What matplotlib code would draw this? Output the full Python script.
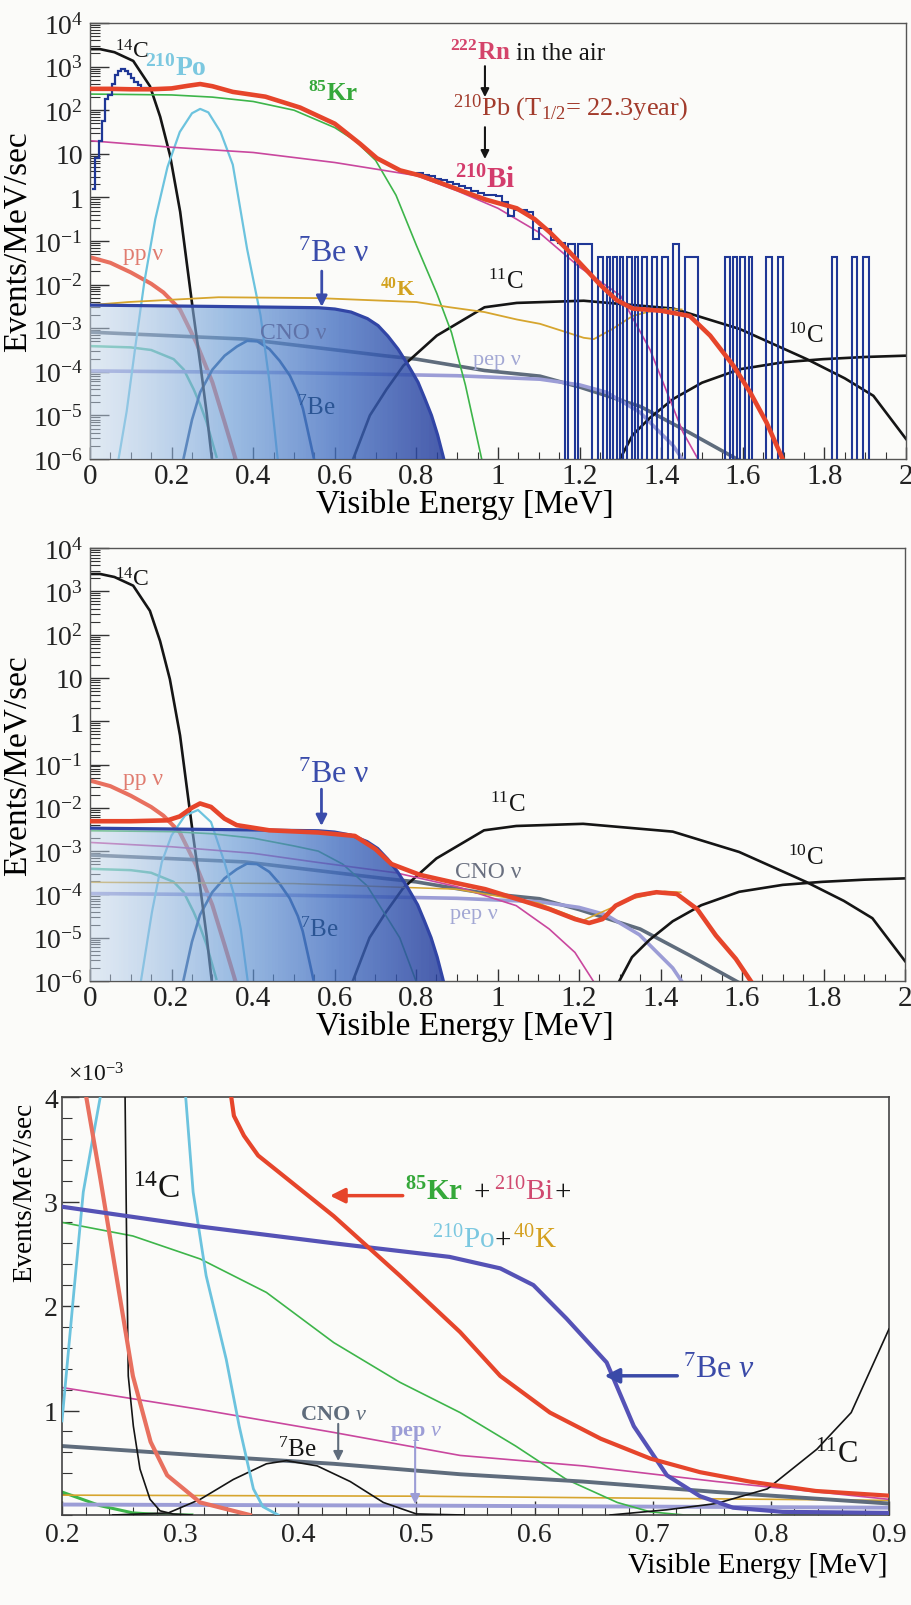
import numpy as np
import matplotlib
matplotlib.use("Agg")
import matplotlib.pyplot as plt
from matplotlib.colors import LinearSegmentedColormap
from matplotlib.patches import Polygon
from matplotlib.ticker import MultipleLocator, FuncFormatter, LogLocator, NullFormatter

plt.rcParams['font.family'] = ['Liberation Serif', 'DejaVu Serif']
plt.rcParams['mathtext.fontset'] = 'custom'
plt.rcParams['mathtext.rm'] = 'Liberation Serif'
plt.rcParams['mathtext.it'] = 'Liberation Serif:italic'
plt.rcParams['mathtext.bf'] = 'Liberation Serif:bold'

# ---------------- log panels: energy [MeV], log10(events/MeV/sec) ----------------
c14_e = [0, 0.025, 0.06, 0.106, 0.147, 0.172, 0.196, 0.221, 0.237, 0.253, 0.27, 0.286, 0.30]
c14_log = [3.40, 3.40, 3.33, 3.13, 2.55, 1.85, 0.97, -0.33, -1.49, -2.64, -3.8, -4.95, -6.1]

pp_e = [0, 0.05, 0.1, 0.15, 0.18, 0.22, 0.26, 0.30, 0.33, 0.36]
pp_log = [-1.37, -1.5, -1.72, -1.98, -2.18, -2.56, -3.32, -4.24, -5.16, -6.1]

po_e = [0.07, 0.09, 0.11, 0.133, 0.16, 0.19, 0.22, 0.25, 0.27, 0.29, 0.32, 0.35, 0.385, 0.418, 0.44, 0.46]
po_log = [-6.0, -4.9, -3.5, -1.95, -0.5, 0.7, 1.5, 1.93, 2.03, 1.95, 1.5, 0.75, -1.18, -2.71, -4.24, -6.0]

kr_e = [0, 0.1, 0.2, 0.3, 0.4, 0.5, 0.6, 0.65, 0.7, 0.75, 0.8, 0.85, 0.886, 0.92, 0.96]
kr_log = [2.37, 2.36, 2.35, 2.3, 2.2, 2.0, 1.6, 1.3, 0.85, 0.05, -1.1, -2.2, -3.1, -4.3, -6.0]

bi_e = [0, 0.2, 0.4, 0.6, 0.8, 0.9, 1.0, 1.1, 1.2, 1.3, 1.373, 1.453, 1.49]
bi_log = [1.30, 1.15, 1.03, 0.80, 0.50, 0.15, -0.25, -0.8, -1.6, -2.25, -3.5, -5.38, -6.0]

k40_e = [0, 0.094, 0.315, 0.56, 0.80, 0.882, 0.967, 1.046, 1.103, 1.21, 1.235, 1.28, 1.33, 1.37, 1.41, 1.45]
k40_log = [-2.47, -2.40, -2.29, -2.31, -2.40, -2.52, -2.63, -2.8, -2.9, -3.22, -3.25, -3.02, -2.72, -2.62, -2.56, -2.57]

teal_e = [0, 0.1, 0.15, 0.205, 0.23, 0.254, 0.27, 0.286, 0.31]
teal_log = [-3.41, -3.44, -3.5, -3.71, -3.95, -4.4, -4.75, -5.16, -5.95]

be7nu_e = [0, 0.3, 0.56, 0.6, 0.64, 0.68, 0.706, 0.73, 0.755, 0.78, 0.804, 0.82, 0.837, 0.852, 0.865, 0.875]
be7nu_log = [-2.47, -2.5, -2.53, -2.56, -2.63, -2.78, -2.94, -3.18, -3.48, -3.85, -4.24, -4.6, -5.0, -5.45, -5.92, -6.3]

cno_e = [0, 0.38, 0.72, 0.80, 0.967, 1.103, 1.2, 1.35, 1.47, 1.595]
cno_log = [-3.09, -3.25, -3.63, -3.71, -3.97, -4.1, -4.35, -4.8, -5.4, -6.05]

pep_e = [0, 0.5, 0.9, 1.103, 1.2, 1.266, 1.348, 1.43, 1.455]
pep_log = [-3.98, -4.02, -4.09, -4.17, -4.3, -4.47, -4.93, -5.7, -6.05]

be7_e = [0.229, 0.25, 0.27, 0.30, 0.33, 0.36, 0.385, 0.41, 0.44, 0.465, 0.49, 0.51, 0.522, 0.535, 0.549]
be7_log = [-6.0, -5.1, -4.47, -3.95, -3.63, -3.42, -3.29, -3.3, -3.48, -3.75, -4.09, -4.5, -4.85, -5.4, -6.0]

c11_e = [0.645, 0.686, 0.727, 0.768, 0.85, 0.967, 1.046, 1.21, 1.43, 1.593, 1.757, 1.85, 1.92, 2.0]
c11_log = [-6.0, -5.0, -4.4, -3.86, -3.17, -2.52, -2.42, -2.37, -2.55, -3.02, -3.71, -4.15, -4.55, -5.54]

c10_e = [1.299, 1.33, 1.373, 1.43, 1.5, 1.593, 1.70, 1.797, 1.9, 2.0]
c10_log = [-6.0, -5.45, -5.05, -4.62, -4.25, -3.94, -3.78, -3.71, -3.66, -3.63]

# total (panel 1, before purification)
red1_e = [0, 0.05, 0.1, 0.15, 0.2, 0.24, 0.27, 0.30, 0.35, 0.43, 0.515, 0.6, 0.662, 0.703, 0.76, 0.81,
          0.86, 0.92, 0.97, 1.046, 1.09, 1.127, 1.17, 1.21, 1.25, 1.29, 1.33, 1.40, 1.47, 1.52, 1.577,
          1.618, 1.658, 1.70]
red1_log = [2.49, 2.49, 2.48, 2.48, 2.5, 2.56, 2.6, 2.55, 2.42, 2.31, 2.06, 1.69, 1.23, 0.9, 0.62, 0.5,
            0.33, 0.12, -0.05, -0.25, -0.5, -0.8, -1.2, -1.6, -2.0, -2.35, -2.55, -2.6, -2.72, -3.17, -3.86,
            -4.47, -5.16, -6.05]

# measured spectrum histogram (panel 1)
histlo_edges = [0.005, 0.013, 0.021, 0.029, 0.037, 0.045, 0.053, 0.061, 0.069, 0.077, 0.085, 0.093,
                0.101, 0.109, 0.117, 0.125, 0.133, 0.141]
histlo_log = [0.2, 0.9, 1.3, 1.75, 2.25, 2.35, 2.6, 2.8, 2.9, 2.94, 2.9, 2.83, 2.75, 2.65, 2.58, 2.52, 2.5]
histhi_edges = [0.80, 0.815, 0.83, 0.845, 0.86, 0.875, 0.89, 0.905, 0.92, 0.935, 0.95, 0.965, 0.98,
                0.995, 1.01, 1.025, 1.04, 1.055, 1.07, 1.085, 1.10, 1.115, 1.13, 1.148]
histhi_log = [0.55, 0.52, 0.5, 0.42, 0.4, 0.35, 0.3, 0.27, 0.22, 0.15, 0.1, 0.05, 0.06, 0.04, -0.1,
              -0.42, -0.3, -0.3, -0.34, -0.95, -0.7, -0.72, -0.98]
bar_lo = [1.148, 1.172, 1.197, 1.246, 1.266, 1.283, 1.299, 1.315, 1.336, 1.352, 1.377, 1.401, 1.428,
          1.458, 1.556, 1.577, 1.593, 1.614, 1.658, 1.687, 1.818, 1.867, 1.895]
bar_hi = [1.164, 1.189, 1.230, 1.258, 1.275, 1.291, 1.307, 1.328, 1.344, 1.364, 1.389, 1.417, 1.444,
          1.491, 1.569, 1.585, 1.605, 1.622, 1.671, 1.699, 1.830, 1.879, 1.910]
bar_log = [-1.05, -1.07, -1.07, -1.37, -1.37, -1.37, -1.37, -1.37, -1.37, -1.37, -1.37, -1.37, -1.07,
           -1.37, -1.37, -1.37, -1.37, -1.37, -1.37, -1.37, -1.37, -1.37, -1.37]

# panel 2 (after purification)
red2_e = [0, 0.1, 0.19, 0.22, 0.25, 0.27, 0.297, 0.33, 0.36, 0.44, 0.56, 0.65, 0.70, 0.74, 0.81, 0.89,
          0.97, 1.046, 1.127, 1.19, 1.225, 1.258, 1.29, 1.34, 1.39, 1.44, 1.49, 1.536, 1.585, 1.625]
red2_log = [-2.31, -2.31, -2.29, -2.2, -2.0, -1.9, -1.98, -2.25, -2.4, -2.52, -2.57, -2.65, -2.95, -3.3,
            -3.55, -3.72, -3.88, -4.1, -4.34, -4.57, -4.66, -4.57, -4.26, -4.03, -3.95, -3.99, -4.34,
            -4.95, -5.49, -6.05]
po2_e = [0.125, 0.152, 0.176, 0.2, 0.233, 0.265, 0.297, 0.33, 0.354, 0.37, 0.387]
po2_log = [-6.0, -4.41, -3.26, -2.64, -2.18, -2.05, -2.33, -3.26, -4.03, -4.8, -6.0]
kr2_e = [0, 0.2, 0.3, 0.4, 0.5, 0.56, 0.62, 0.68, 0.72, 0.76, 0.80]
kr2_log = [-2.53, -2.55, -2.6, -2.7, -2.88, -3.0, -3.3, -3.8, -4.4, -5.0, -6.0]
bi2_e = [0, 0.2, 0.4, 0.55, 0.75, 0.9, 1.046, 1.127, 1.19, 1.235]
bi2_log = [-2.8, -2.9, -3.05, -3.25, -3.5, -3.82, -4.26, -4.8, -5.34, -6.0]
k2_e = [0, 0.5, 0.9, 1.1, 1.21, 1.33, 1.41, 1.45]
k2_log = [-3.72, -3.75, -3.88, -4.2, -4.6, -4.1, -3.93, -3.95]

# ---------------- panel 3: linear, values in 1e-3 events/MeV/sec ----------------
be7nu3_e = [0.2, 0.317, 0.43, 0.528, 0.571, 0.599, 0.627, 0.661, 0.684, 0.712, 0.74, 0.768, 0.81, 0.9]
be7nu3_v = [2.95, 2.76, 2.6, 2.47, 2.36, 2.2, 1.88, 1.46, 0.85, 0.38, 0.18, 0.07, 0.03, 0.02]
red3_e = [0.342, 0.3455, 0.354, 0.366, 0.387, 0.43, 0.486, 0.537, 0.571, 0.613, 0.656, 0.698, 0.74,
          0.782, 0.838, 0.9]
red3_v = [4.1, 3.82, 3.63, 3.44, 3.25, 2.86, 2.29, 1.75, 1.33, 0.98, 0.73, 0.54, 0.41, 0.32, 0.23, 0.185]
kr3_e = [0.2, 0.26, 0.317, 0.373, 0.43, 0.486, 0.537, 0.584, 0.627, 0.67, 0.698, 0.727, 0.9]
kr3_v = [2.8, 2.67, 2.45, 2.13, 1.65, 1.27, 0.98, 0.66, 0.34, 0.12, 0.03, 0.0, 0.0]
bi3_e = [0.2, 0.317, 0.43, 0.537, 0.641, 0.754, 0.9]
bi3_v = [1.22, 1.01, 0.79, 0.57, 0.47, 0.32, 0.15]
cno3_e = [0.2, 0.317, 0.43, 0.537, 0.641, 0.754, 0.9]
cno3_v = [0.66, 0.57, 0.49, 0.39, 0.32, 0.22, 0.11]
k3_e = [0.2, 0.5, 0.9]
k3_v = [0.19, 0.18, 0.14]
pep3_e = [0.2, 0.5, 0.9]
pep3_v = [0.1, 0.09, 0.07]
c143_e = [0.2533, 0.2548, 0.2561, 0.2604, 0.266, 0.2745, 0.283, 0.294, 0.31]
c143_v = [4.1, 2.5, 1.33, 0.85, 0.44, 0.15, 0.04, 0.01, 0.0]
be73_e = [0.243, 0.29, 0.317, 0.345, 0.373, 0.39, 0.416, 0.444, 0.472, 0.5, 0.54]
be73_v = [0.0, 0.02, 0.15, 0.34, 0.49, 0.52, 0.47, 0.32, 0.12, 0.01, 0.0]
c113_e = [0.664, 0.712, 0.754, 0.797, 0.839, 0.868, 0.9]
c113_v = [0.0, 0.05, 0.11, 0.25, 0.63, 0.98, 1.78]
pp3_e = [0.2, 0.219, 0.232, 0.246, 0.26, 0.275, 0.289, 0.317, 0.359]
pp3_v = [5.6, 4.1, 3.25, 2.29, 1.33, 0.70, 0.38, 0.12, 0.0]
po3_e = [0.2, 0.21, 0.218, 0.226, 0.234, 0.27, 0.304, 0.311, 0.322, 0.339, 0.35, 0.362, 0.37, 0.383]
po3_v = [0.9, 2.13, 3.09, 3.6, 4.1, 10.5, 4.1, 3.09, 2.29, 1.49, 0.85, 0.25, 0.08, 0.0]
teal3_e = [0.2, 0.232, 0.26, 0.289, 0.31]
teal3_v = [0.22, 0.09, 0.02, 0.0, 0.0]

# colours
RED = '#e6452b'
BLACK = '#151515'
CYAN = '#6cc3de'
GREEN = '#3db54a'
MAGENTA = '#c9479e'
GOLD = '#d6a52e'
SALMON = '#e8705f'
TEAL = '#5bc4a0'
BEBLUE = '#3145a5'
CNOGRAY = '#5f6c7c'
PEP = '#9c9dd6'
BE7 = '#1f4f8f'
HIST = '#1f3796'
BG = '#fbfbf9'

be_cmap = LinearSegmentedColormap.from_list('be', [
    (0.0, (0.78, 0.85, 0.93, 0.5)),
    (0.4, (0.40, 0.60, 0.84, 0.65)),
    (0.7, (0.25, 0.42, 0.75, 0.78)),
    (1.0, (0.15, 0.24, 0.61, 0.85))])


def lg(v):
    return 10.0 ** np.asarray(v)


def text(ax, x, y, s, color, size, weight='normal', ha='left', va='center'):
    return ax.text(x, y, s, transform=ax.transAxes, color=color, fontsize=size,
                   fontweight=weight, ha=ha, va=va, zorder=20)


def chain(ax, x, y, parts, size):
    # pieces of one label in different colours, set one after another on a baseline
    s, c, w, _ = parts[0]
    t = text(ax, x, y, s, c, size, w, va='baseline')
    for s, c, w, gap in parts[1:]:
        t = ax.annotate(s, xy=(1, 0), xycoords=t, xytext=(gap, 0), textcoords='offset points',
                        color=c, fontsize=size, fontweight=w, va='bottom', ha='left', zorder=20)


def arrow(ax, x0, y0, x1, y1, color, lw=1.5, ms=14):
    ax.annotate('', xy=(x1, y1), xytext=(x0, y0), xycoords='axes fraction',
                textcoords='axes fraction', zorder=20,
                arrowprops=dict(arrowstyle='-|>', color=color, lw=lw,
                                mutation_scale=ms, shrinkA=0, shrinkB=0))


def shade(ax):
    verts = list(zip(be7nu_e, lg(be7nu_log))) + [(be7nu_e[-1], 1e-8), (0, 1e-8)]
    patch = Polygon(verts, closed=True, transform=ax.transData,
                    facecolor='none', edgecolor='none')
    ax.add_patch(patch)
    gx = np.linspace(0, 0.88, 220)
    gc = np.linspace(0, 1, 219).reshape(1, -1)
    mesh = ax.pcolormesh(gx, [1e-8, 1e-2], gc, cmap=be_cmap, shading='flat',
                         edgecolors='none', antialiased=False, zorder=3)
    mesh.set_clip_path(patch)
    ax.plot(be7nu_e, lg(be7nu_log), color=BEBLUE, lw=2.3, zorder=4)


def log_axes(ax):
    ax.set_yscale('log')
    ax.set_xlim(0, 2)
    ax.set_ylim(1e-6, 1e4)
    ax.set_facecolor('none')
    yt = [10.0 ** k for k in range(-6, 5)]
    ylab = [r'$10^{-6}$', r'$10^{-5}$', r'$10^{-4}$', r'$10^{-3}$', r'$10^{-2}$',
            r'$10^{-1}$', '1', '10', r'$10^{2}$', r'$10^{3}$', r'$10^{4}$']
    ax.set_yticks(yt)
    ax.set_yticklabels(ylab)
    ax.yaxis.set_minor_locator(LogLocator(base=10, subs=np.arange(2, 10), numticks=30))
    ax.yaxis.set_minor_formatter(NullFormatter())
    ax.xaxis.set_major_locator(MultipleLocator(0.2))
    ax.xaxis.set_minor_locator(MultipleLocator(0.05))
    ax.xaxis.set_major_formatter(FuncFormatter(lambda v, p: f'{v:g}'))
    ax.tick_params(which='both', direction='in', top=False, right=False,
                   colors='#333333', labelcolor='#222222')
    ax.yaxis.set_tick_params(which='major', length=14, width=1.0, pad=5, labelsize=20)
    ax.yaxis.set_tick_params(which='minor', length=7, width=0.8)
    ax.xaxis.set_tick_params(which='major', length=9, width=1.0, pad=3, labelsize=21)
    ax.xaxis.set_tick_params(which='minor', length=5, width=0.8)
    for s in ax.spines.values():
        s.set_color('#555555')
        s.set_linewidth(1.0)
    ax.set_ylabel('Events/MeV/sec', fontsize=24)
    ax.yaxis.set_label_coords(-0.071, 0.5)
    ax.set_xlabel('Visible Energy [MeV]', fontsize=24)
    ax.xaxis.set_label_coords(0.46, -0.066)


def common_lines(ax):
    ax.plot(pp_e, lg(pp_log), color=SALMON, lw=2.9, zorder=2)
    ax.plot(teal_e, lg(teal_log), color=TEAL, lw=1.8, zorder=2)
    ax.plot(cno_e, lg(cno_log), color=CNOGRAY, lw=2.6, zorder=2)
    ax.plot(pep_e, lg(pep_log), color=PEP, lw=2.6, zorder=2)
    ax.plot(be7_e, lg(be7_log), color=BE7, lw=1.9, zorder=2)
    ax.plot(c14_e, lg(c14_log), color=BLACK, lw=1.9, zorder=2)
    ax.plot(c11_e, lg(c11_log), color=BLACK, lw=1.9, zorder=2)
    ax.plot(c10_e, lg(c10_log), color=BLACK, lw=1.9, zorder=2)


fig = plt.figure(figsize=(9.11, 16.06), dpi=100, facecolor=BG)

# ---------------- panel 1 ----------------
ax1 = fig.add_axes([90 / 911, 1 - 460 / 1606, 816 / 911, 436 / 1606])
common_lines(ax1)
ax1.plot(po_e, lg(po_log), color=CYAN, lw=1.6, zorder=2)
ax1.plot(kr_e, lg(kr_log), color=GREEN, lw=1.2, zorder=2)
ax1.plot(bi_e, lg(bi_log), color=MAGENTA, lw=1.2, zorder=2)
ax1.plot(k40_e, lg(k40_log), color=GOLD, lw=1.3, zorder=2)
shade(ax1)

# histogram of data
ax1.stairs(lg(histlo_log), histlo_edges, baseline=None, color=HIST, lw=1.6, zorder=5)
edges = list(histhi_edges)
vals = list(histhi_log)
for lo, hi, h in zip(bar_lo, bar_hi, bar_log):
    if lo > edges[-1] + 1e-9:
        vals.append(-9)
        edges.append(lo)
    vals.append(h)
    edges.append(hi)
vals.append(-9)
edges.append(2.0)
ax1.stairs(lg(vals), edges, baseline=None, color=HIST, lw=1.5, zorder=5)
ax1.plot(red1_e, lg(red1_log), color=RED, lw=3.3, zorder=6, solid_capstyle='round')
log_axes(ax1)

text(ax1, 0.031, 0.936, r'$^{14}$C', BLACK, 17)
text(ax1, 0.067, 0.899, r'$^{\mathbf{210}}$Po', '#7cc8e0', 20, 'bold')
text(ax1, 0.267, 0.839, r'$^{\mathbf{85}}$Kr', '#35a83a', 18, 'bold')
chain(ax1, 0.441, 0.917, [(r'$^{\mathbf{222}}$Rn', '#d4436a', 'bold', 0),
                          ('in the air', BLACK, 'normal', 4)], 18)
arrow(ax1, 0.484, 0.901, 0.484, 0.830, BLACK, 1.5, 12)
text(ax1, 0.445, 0.791, r'$^{210}$Pb (T$_{1/2}$= 22.3year)', '#a23b2c', 19, va='baseline')
arrow(ax1, 0.484, 0.761, 0.484, 0.688, BLACK, 1.5, 12)
text(ax1, 0.447, 0.624, r'$^{\mathbf{210}}$Bi', '#d33c6c', 21, 'bold', va='baseline')
text(ax1, 0.040, 0.472, 'pp ν', '#e07c70', 17)
text(ax1, 0.255, 0.472, r'$^7$Be ν', '#3a4cab', 23)
arrow(ax1, 0.284, 0.431, 0.284, 0.349, '#3a4cab', 2.0, 16)
text(ax1, 0.355, 0.392, r'$^{\mathbf{40}}$K', '#d2a21e', 16, 'bold')
text(ax1, 0.208, 0.291, 'CNO ν', '#5f72a8', 17)
text(ax1, 0.254, 0.119, r'$^7$Be', '#2b5594', 18)
text(ax1, 0.488, 0.408, r'$^{11}$C', BLACK, 18)
text(ax1, 0.855, 0.284, r'$^{10}$C', BLACK, 18)
text(ax1, 0.469, 0.229, 'pep ν', '#a3a8d4', 16)

# ---------------- panel 2 ----------------
ax2 = fig.add_axes([90 / 911, 1 - 982 / 1606, 815 / 911, 433 / 1606])
common_lines(ax2)
ax2.plot(po2_e, lg(po2_log), color=CYAN, lw=1.6, zorder=2)
ax2.plot(kr2_e, lg(kr2_log), color=GREEN, lw=1.2, zorder=2)
ax2.plot(bi2_e, lg(bi2_log), color=MAGENTA, lw=1.2, zorder=2)
ax2.plot(k2_e, lg(k2_log), color=GOLD, lw=1.1, zorder=2)
shade(ax2)
ax2.plot(red2_e, lg(red2_log), color=RED, lw=3.3, zorder=6, solid_capstyle='round')
log_axes(ax2)

text(ax2, 0.031, 0.928, r'$^{14}$C', BLACK, 17)
text(ax2, 0.040, 0.467, 'pp ν', '#e07c70', 17)
text(ax2, 0.255, 0.478, r'$^7$Be ν', '#3a4cab', 23)
arrow(ax2, 0.284, 0.443, 0.284, 0.358, '#3a4cab', 2.0, 16)
text(ax2, 0.491, 0.409, r'$^{11}$C', BLACK, 18)
text(ax2, 0.856, 0.286, r'$^{10}$C', BLACK, 18)
text(ax2, 0.448, 0.252, 'CNO ν', '#6a7080', 17)
text(ax2, 0.442, 0.155, 'pep ν', '#a3a8d4', 16)
text(ax2, 0.258, 0.120, r'$^7$Be', '#2b5594', 18)

# ---------------- panel 3 ----------------
ax3 = fig.add_axes([62 / 911, 1 - 1516 / 1606, 827 / 911, 418 / 1606])
ax3.set_facecolor('none')
ax3.plot(teal3_e, teal3_v, color=GREEN, lw=2.2, zorder=2)
ax3.plot(k3_e, k3_v, color=GOLD, lw=1.2, zorder=2)
ax3.plot(pep3_e, pep3_v, color=PEP, lw=2.8, zorder=2)
ax3.plot(bi3_e, bi3_v, color=MAGENTA, lw=1.2, zorder=2)
ax3.plot(kr3_e, kr3_v, color=GREEN, lw=1.2, zorder=2)
ax3.plot(cno3_e, cno3_v, color=CNOGRAY, lw=2.8, zorder=2)
ax3.plot(be73_e, be73_v, color=BLACK, lw=1.2, zorder=3)
ax3.plot(c113_e, c113_v, color=BLACK, lw=1.2, zorder=3)
ax3.plot(c143_e, c143_v, color=BLACK, lw=1.2, zorder=3)
ax3.plot(po3_e, po3_v, color=CYAN, lw=2.0, zorder=3)
ax3.plot(pp3_e, pp3_v, color=SALMON, lw=3.0, zorder=3)
ax3.plot(be7nu3_e, be7nu3_v, color='#5552b6', lw=3.0, zorder=4)
ax3.plot(red3_e, red3_v, color=RED, lw=3.0, zorder=4)
ax3.set_xlim(0.2, 0.9)
ax3.set_ylim(0, 4)
ax3.set_yticks([1, 2, 3, 4])
ax3.yaxis.set_minor_locator(MultipleLocator(0.2))
ax3.xaxis.set_major_locator(MultipleLocator(0.1))
ax3.xaxis.set_minor_locator(MultipleLocator(0.02))
ax3.xaxis.set_major_formatter(FuncFormatter(lambda v, p: f'{v:g}'))
ax3.tick_params(which='both', direction='in', top=False, right=False,
                labelsize=20, colors='#333333', labelcolor='#222222')
ax3.yaxis.set_tick_params(which='major', length=12, width=1.0, pad=3)
ax3.yaxis.set_tick_params(which='minor', length=7, width=0.8)
ax3.xaxis.set_tick_params(which='major', length=10, width=1.0, pad=5)
ax3.xaxis.set_tick_params(which='minor', length=6, width=0.8)
for s in ax3.spines.values():
    s.set_color('#444444')
    s.set_linewidth(1.2)
ax3.set_ylabel('Events/MeV/sec', fontsize=19.5)
ax3.yaxis.set_label_coords(-0.030, 0.775)
ax3.set_xlabel('Visible Energy [MeV]', fontsize=21)
ax3.xaxis.label.set_horizontalalignment('right')
ax3.xaxis.set_label_coords(0.998, -0.088)

text(ax3, 0.007, 1.055, r'$\times$10$^{-3}$', BLACK, 17)
text(ax3, 0.086, 0.780, r'$^{14}$C', BLACK, 24)
chain(ax3, 0.415, 0.756, [(r'$^{\mathbf{85}}$Kr', '#35a83a', 'bold', 0),
                          ('+', BLACK, 'normal', 7),
                          (r'$^{210}$Bi', '#d04a70', 'normal', 3),
                          ('+', BLACK, 'normal', 0)], 21)
chain(ax3, 0.447, 0.641, [(r'$^{210}$Po', '#7cc8e0', 'normal', 0),
                          ('+', BLACK, 'normal', 0),
                          (r'$^{40}$K', '#d4a020', 'normal', 1)], 21)
arrow(ax3, 0.412, 0.764, 0.324, 0.764, RED, 2.5, 22)
text(ax3, 0.751, 0.349, r'$^7$Be $\nu$', '#3a4aa8', 23)
arrow(ax3, 0.744, 0.333, 0.656, 0.333, '#3a4aa8', 2.5, 22)
text(ax3, 0.911, 0.146, r'$^{11}$C', BLACK, 22)
text(ax3, 0.261, 0.158, r'$^7$Be', BLACK, 18)
text(ax3, 0.288, 0.242, r'CNO $\nu$', '#5f6c7c', 16, 'bold')
arrow(ax3, 0.334, 0.218, 0.334, 0.129, '#5f6c7c', 1.5, 14)
text(ax3, 0.397, 0.199, r'pep $\nu$', '#9c9dd6', 16, 'bold')
arrow(ax3, 0.427, 0.175, 0.427, 0.026, '#9c9dd6', 1.5, 14)

fig.savefig('out.png', dpi=100, facecolor=BG)
print("saved out.png")
